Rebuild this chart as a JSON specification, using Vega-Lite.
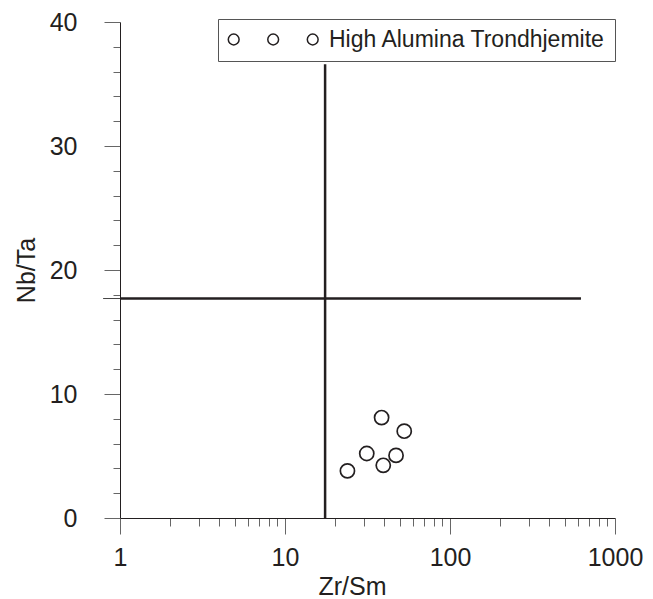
{
  "$schema": "https://vega.github.io/schema/vega-lite/v6.json",
  "width": 495,
  "height": 496,
  "padding": {"left": 14, "top": 10, "right": 5, "bottom": 5},
  "background": "white",
  "config": {
    "view": {"stroke": null},
    "font": "Liberation Sans",
    "axis": {
      "labelFont": "Liberation Sans",
      "titleFont": "Liberation Sans",
      "labelColor": "#231f20",
      "titleColor": "#231f20",
      "domainColor": "#231f20",
      "tickColor": "#666666",
      "grid": false,
      "labelFontSize": 25,
      "titleFontSize": 25,
      "titleFontWeight": "normal"
    }
  },
  "layer": [
    {
      "data": {"values": [{"zr_sm": 17.5, "nb_ta_lo": 0, "nb_ta_hi": 36.6}]},
      "mark": {"type": "rule", "color": "#231f20", "strokeWidth": 2.5, "clip": false},
      "encoding": {
        "x": {
          "field": "zr_sm", "type": "quantitative",
          "scale": {"type": "log", "domain": [1, 1000]},
          "axis": {
            "title": "Zr/Sm",
            "titleX": 232,
            "tickCount": 200,
            "values": [1,2,3,4,5,6,7,8,9,10,20,30,40,50,60,70,80,90,100,200,300,400,500,600,700,800,900,1000],
            "labelExpr": "datum.value == 1 || datum.value == 10 || datum.value == 100 || datum.value == 1000 ? format(datum.value, 'd') : ''",
            "tickSize": {"condition": {"test": "datum.value == 1 || datum.value == 10 || datum.value == 100 || datum.value == 1000", "value": 16}, "value": 8},
            "labelPadding": 11,
            "labelFlush": false,
            "labelOverlap": false,
            "titlePadding": 4
          }
        },
        "y": {
          "field": "nb_ta_lo", "type": "quantitative",
          "scale": {"domain": [0, 40]},
          "axis": {
            "title": "Nb/Ta",
            "tickCount": 200,
            "values": [0,2,4,6,8,10,12,14,16,18,20,22,24,26,28,30,32,34,36,38,40],
            "labelExpr": "datum.value % 10 == 0 ? format(datum.value, 'd') : ''",
            "tickSize": {"condition": {"test": "datum.value % 10 == 0", "value": 16}, "value": 7},
            "labelPadding": 27,
            "labelFlush": false,
            "labelOverlap": false,
            "titlePadding": 10
          }
        },
        "y2": {"field": "nb_ta_hi"}
      }
    },
    {
      "data": {"values": [{"zr_sm_lo": 1, "zr_sm_hi": 622, "nb_ta": 17.7}]},
      "mark": {"type": "rule", "color": "#231f20", "strokeWidth": 2.5, "clip": false},
      "encoding": {
        "x": {"field": "zr_sm_lo", "type": "quantitative"},
        "x2": {"field": "zr_sm_hi"},
        "y": {"field": "nb_ta", "type": "quantitative"}
      }
    },
    {
      "data": {"values": [{"zr_sm_lo": 0.79, "zr_sm_hi": 1, "nb_ta": 17.7}]},
      "mark": {"type": "rule", "color": "#444444", "strokeWidth": 1, "clip": false},
      "encoding": {
        "x": {"field": "zr_sm_lo", "type": "quantitative"},
        "x2": {"field": "zr_sm_hi"},
        "y": {"field": "nb_ta", "type": "quantitative"}
      }
    },
    {
      "data": {"values": [
        {"zr_sm": 38.5, "nb_ta": 8.1, "rock": "High Alumina Trondhjemite"},
        {"zr_sm": 52.8, "nb_ta": 7.0, "rock": "High Alumina Trondhjemite"},
        {"zr_sm": 31.3, "nb_ta": 5.2, "rock": "High Alumina Trondhjemite"},
        {"zr_sm": 47.1, "nb_ta": 5.05, "rock": "High Alumina Trondhjemite"},
        {"zr_sm": 39.4, "nb_ta": 4.25, "rock": "High Alumina Trondhjemite"},
        {"zr_sm": 23.9, "nb_ta": 3.8, "rock": "High Alumina Trondhjemite"}
      ]},
      "mark": {"type": "point", "shape": "circle", "filled": false, "size": 200, "strokeWidth": 1.7, "opacity": 1},
      "encoding": {
        "x": {"field": "zr_sm", "type": "quantitative"},
        "y": {"field": "nb_ta", "type": "quantitative"},
        "color": {
          "field": "rock", "type": "nominal",
          "scale": {"range": ["#231f20"]},
          "legend": {
            "title": null,
            "orient": "none",
            "legendX": 98,
            "legendY": -3,
            "symbolType": "M-1.7,0a0.9,0.9 0 1,0 1.8,0a0.9,0.9 0 1,0 -1.8,0ZM4.88,0a0.9,0.9 0 1,0 1.8,0a0.9,0.9 0 1,0 -1.8,0ZM11.47,0a0.9,0.9 0 1,0 1.8,0a0.9,0.9 0 1,0 -1.8,0Z",
            "symbolSize": 144,
            "symbolStrokeWidth": 1.5,
            "symbolFillColor": "white",
            "symbolStrokeColor": "#231f20",
            "labelFont": "Liberation Sans",
            "labelFontSize": 23,
            "labelColor": "#231f20",
            "labelOffset": 79,
            "labelLimit": 400,
            "strokeColor": "#555555",
            "fillColor": "white",
            "padding": 9,
            "cornerRadius": 0
          }
        }
      }
    }
  ]
}
